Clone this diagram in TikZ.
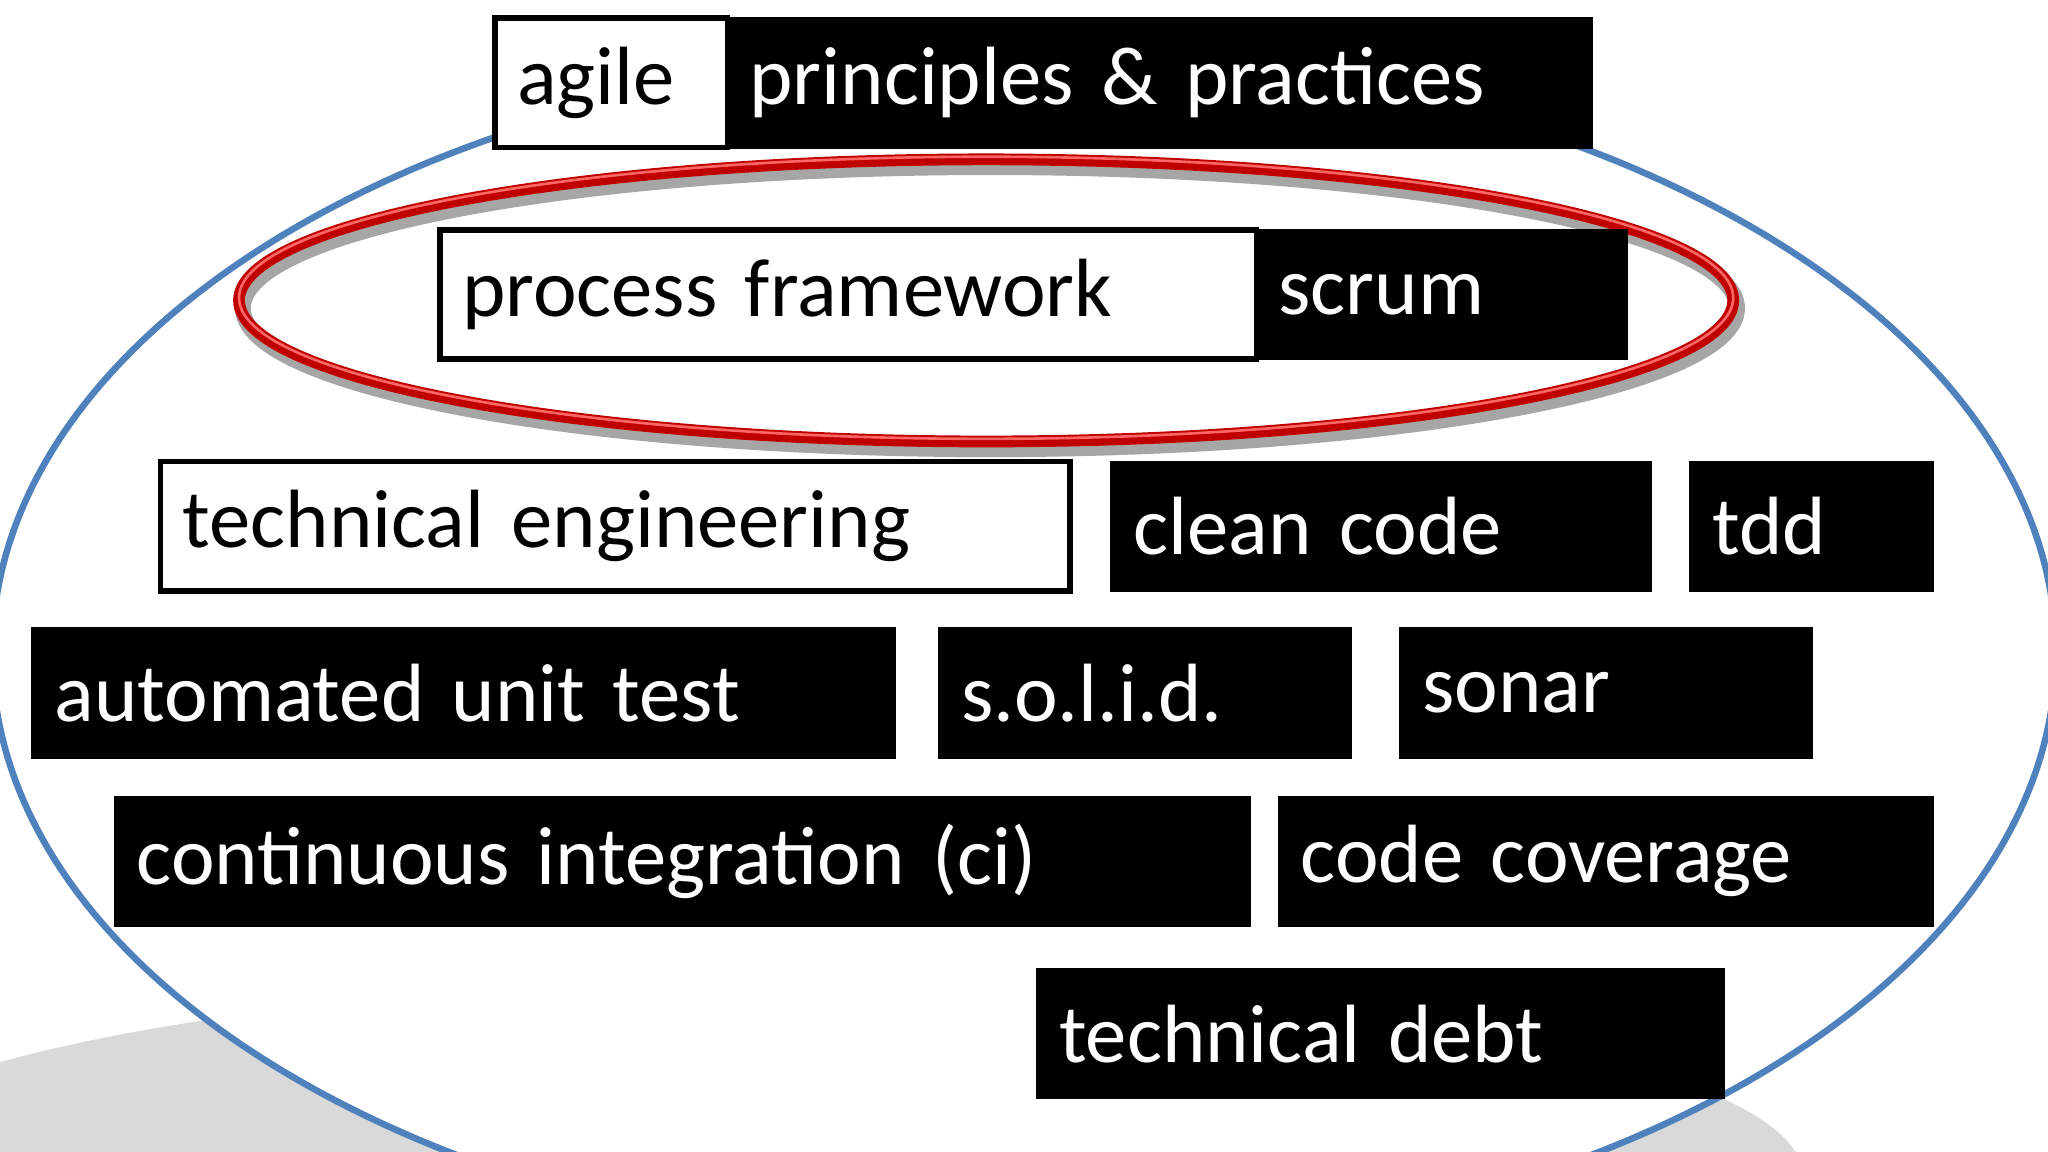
\documentclass[tikz,border=0pt]{standalone}
\usepackage{fontspec}
\setmainfont{Carlito}
\definecolor{eblue}{RGB}{79,129,189}
\definecolor{ered}{RGB}{192,0,0}
\tikzset{
  wbox/.style={draw=black, line width=1.2pt, fill=white, text=black, inner xsep=0.17cm, inner ysep=0pt, minimum height=0.99cm, align=left, font=\fontsize{18}{20}\selectfont},
  bbox/.style={draw=black, fill=black, text=white, inner xsep=0.17cm, inner ysep=0pt, minimum height=0.99cm, align=left, font=\fontsize{18}{20}\selectfont}
}
\begin{document}
\begin{tikzpicture}[x=0.01cm,y=-0.01cm]
\useasboundingbox (0,0) rectangle (1568,882);
\begin{scope}
\clip (0,0) rectangle (1568,882);
\fill[gray!30] (620,900) ellipse [x radius=760, y radius=150];
\fill[white] (784,500) ellipse [x radius=790, y radius=460];
\draw[eblue, line width=0.05cm] (784,500) ellipse [x radius=790, y radius=460];
\draw[black!35, line width=0.12cm] (758,236) ellipse [x radius=572, y radius=108];
\draw[ered, line width=0.09cm] (755,230) ellipse [x radius=572, y radius=108];
\draw[red!60!white, line width=0.02cm] (755,228) ellipse [x radius=572, y radius=108];
\end{scope}
\node[wbox, text width=1.44cm] (agile) at (468,63.5) {agile};
\node[bbox, text width=6.28cm] (pp) at (888,63.5) {principles \& practices};
\node[wbox, text width=5.91cm] (pf) at (649.5,225.5) {process framework};
\node[bbox, text width=2.50cm] (scrum) at (1104,225.5) {scrum};
\node[wbox, text width=6.62cm] (te) at (471,403) {technical engineering};
\node[bbox, text width=3.79cm] (cc) at (1057.5,403) {clean code};
\node[bbox, text width=1.52cm] (tdd) at (1387,403) {tdd};
\node[bbox, text width=6.26cm] (aut) at (355,530.5) {automated unit test};
\node[bbox, text width=2.81cm] (solid) at (876.5,530.5) {s.o.l.i.d.};
\node[bbox, text width=2.81cm] (sonar) at (1229.5,530.5) {sonar};
\node[bbox, text width=8.35cm] (ci) at (522.5,659.5) {continuous integration (ci)};
\node[bbox, text width=4.67cm] (cov) at (1229.5,659.5) {code coverage};
\node[bbox, text width=4.92cm] (debt) at (1057,791.5) {technical debt};
\end{tikzpicture}
\end{document}
